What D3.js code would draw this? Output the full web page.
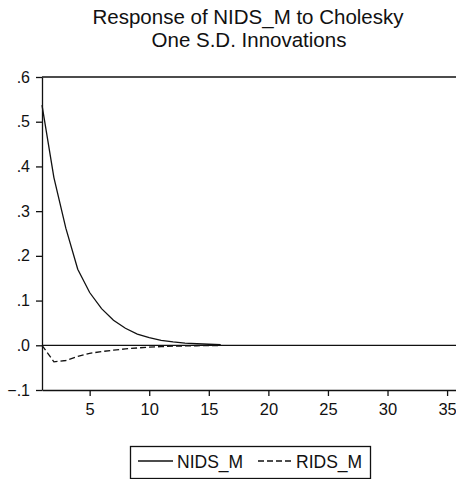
<!DOCTYPE html>
<html>
<head>
<meta charset="utf-8">
<script src="https://cdn.jsdelivr.net/npm/d3@7"></script>
<style>
  body { margin: 0; background: #fff; }
  svg { display: block; font-family: "Liberation Sans", Arial, sans-serif; }
</style>
</head>
<body>
<svg width="456" height="479"></svg>
<script>
// impulse response periods and values
var periods = d3.range(1, 17);
var nids = [0.537, 0.375, 0.262, 0.170, 0.118, 0.082, 0.056, 0.038, 0.025, 0.017, 0.011, 0.0075, 0.005, 0.0034, 0.0023, 0.0016];
var rids = [0.0, -0.037, -0.034, -0.025, -0.018, -0.014, -0.011, -0.008, -0.006, -0.004, -0.003, -0.002, -0.0015, -0.001, -0.0007, -0.0005];
var yTicks = [-0.1, 0, 0.1, 0.2, 0.3, 0.4, 0.5, 0.6];
var xTicks = [5, 10, 15, 20, 25, 30, 35];
var seriesNames = ["NIDS_M", "RIDS_M"];

var svg = d3.select("svg");

var x = d3.scaleLinear().domain([1, 36]).range([42, 459]);
var y = d3.scaleLinear().domain([-0.1, 0.6]).range([390, 77]);

// eviews style labels: .6, .0, -.1
function fmt(d) {
  var s = d3.format(".1f")(d);
  return s.replace("0.", ".");
}

// title
svg.append("text")
  .attr("x", 248).attr("y", 24)
  .attr("text-anchor", "middle")
  .attr("font-size", 20.5)
  .attr("fill", "#111")
  .text("Response of NIDS_M to Cholesky");
svg.append("text")
  .attr("x", 249).attr("y", 47)
  .attr("text-anchor", "middle")
  .attr("font-size", 20.5)
  .attr("fill", "#111")
  .text("One S.D. Innovations");

// top frame line
svg.append("line")
  .attr("x1", 42).attr("x2", 456)
  .attr("y1", y(0.6)).attr("y2", y(0.6))
  .attr("stroke", "#111")
  .attr("stroke-width", 1.3);

// y axis
var yAxis = d3.axisLeft(y).tickValues(yTicks).tickFormat(fmt).tickSize(6).tickSizeOuter(0);
var gy = svg.append("g").attr("transform", "translate(42,0)").call(yAxis);
gy.select(".domain").attr("stroke", "#111").attr("stroke-width", 1.3);
gy.selectAll("line").attr("stroke", "#111").attr("stroke-width", 1.3);
gy.selectAll("text").attr("font-size", 16).attr("font-family", "Liberation Sans, Arial, sans-serif").attr("fill", "#111").attr("x", -12);

// x axis
var xAxis = d3.axisBottom(x).tickValues(xTicks).tickSize(6).tickSizeOuter(0);
var gx = svg.append("g").attr("transform", "translate(0,390)").call(xAxis);
gx.select(".domain").attr("stroke", "#111").attr("stroke-width", 1.3);
gx.selectAll("line").attr("stroke", "#111").attr("stroke-width", 1.3);
gx.selectAll("text").attr("font-size", 16.5).attr("font-family", "Liberation Sans, Arial, sans-serif").attr("fill", "#111").attr("y", 13);

// zero line
svg.append("line")
  .attr("x1", 42).attr("x2", 456)
  .attr("y1", y(0)).attr("y2", y(0))
  .attr("stroke", "#111")
  .attr("stroke-width", 1.3);

var line = d3.line()
  .x(function(d, i) { return x(periods[i]); })
  .y(function(d) { return y(d); });

svg.append("path")
  .datum(nids)
  .attr("d", line)
  .attr("fill", "none")
  .attr("stroke", "#111")
  .attr("stroke-width", 1.3);

svg.append("path")
  .datum(rids)
  .attr("d", line)
  .attr("fill", "none")
  .attr("stroke", "#111")
  .attr("stroke-width", 1.3)
  .attr("stroke-dasharray", "6,3");

// legend
var legend = svg.append("g");
legend.append("rect")
  .attr("x", 130.5).attr("y", 446.5)
  .attr("width", 240).attr("height", 32)
  .attr("fill", "#fff")
  .attr("stroke", "#111")
  .attr("stroke-width", 1.3);
legend.append("line")
  .attr("x1", 138).attr("x2", 173).attr("y1", 461).attr("y2", 461)
  .attr("stroke", "#111")
  .attr("stroke-width", 1.3);
legend.append("text")
  .attr("x", 177).attr("y", 467.5)
  .attr("font-size", 17.5).attr("fill", "#111")
  .text(seriesNames[0]);
legend.append("line")
  .attr("x1", 258).attr("x2", 291).attr("y1", 461).attr("y2", 461)
  .attr("stroke", "#111")
  .attr("stroke-width", 1.3)
  .attr("stroke-dasharray", "6,3");
legend.append("text")
  .attr("x", 296).attr("y", 467.5)
  .attr("font-size", 17.5).attr("fill", "#111")
  .text(seriesNames[1]);
</script>
</body>
</html>
